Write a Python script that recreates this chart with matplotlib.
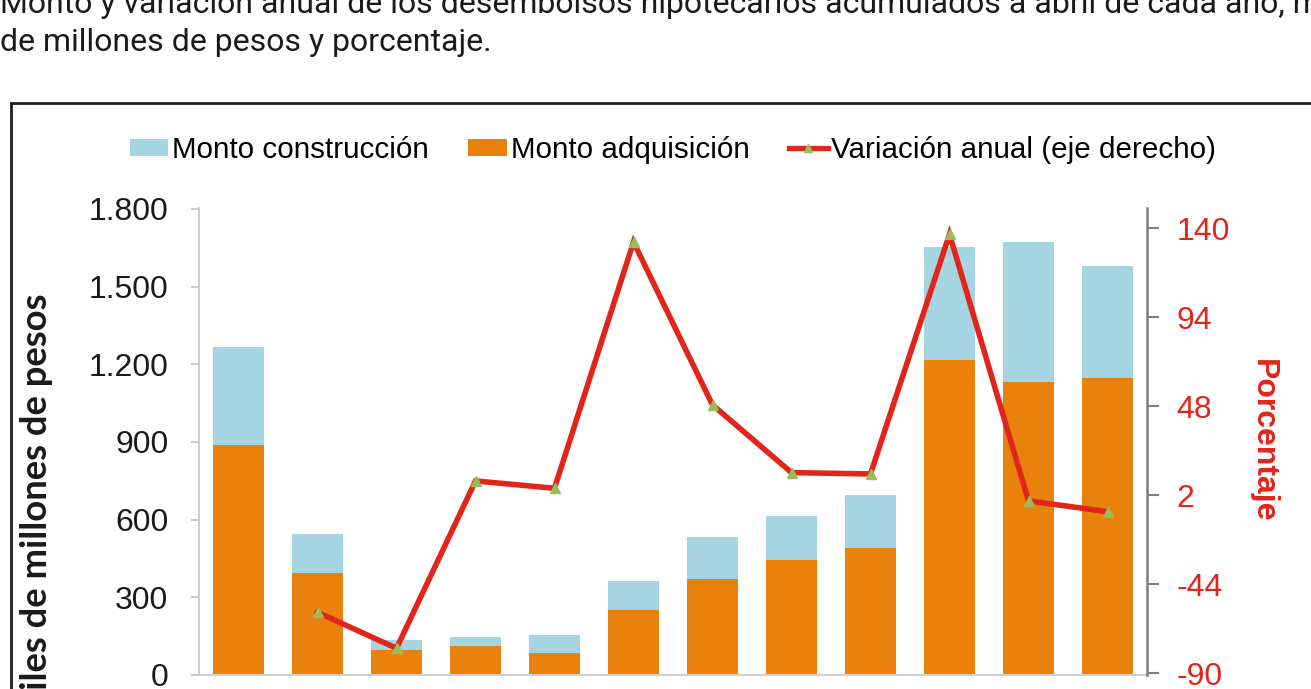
import matplotlib
matplotlib.use("Agg")
import matplotlib.pyplot as plt
from matplotlib.patches import Patch, Rectangle
from matplotlib.lines import Line2D

# ---- data ----
categories = list(range(12))
monto_total = [1268, 543, 134, 147, 153, 362, 534, 614, 695, 1654, 1672, 1579]
monto_adquisicion = [889, 393, 98, 111, 86, 250, 371, 444, 489, 1218, 1130, 1148]
monto_construccion = [t - a for t, a in zip(monto_total, monto_adquisicion)]
variacion = [None, -58.5, -77.1, 9.4, 5.6, 132.9, 48.7, 13.7, 13.0, 136.9, -0.9, -6.5]

left_ticks = [0, 300, 600, 900, 1200, 1500, 1800]
left_labels = ["0", "300", "600", "900", "1.200", "1.500", "1.800"]
right_ticks = [-90, -44, 2, 48, 94, 140]
right_labels = ["-90", "-44", "2", "48", "94", "140"]

title_line1 = "Monto y variación anual de los desembolsos hipotecarios acumulados a abril de cada año, miles"
title_line2 = "de millones de pesos y porcentaje."

BLUE = "#A5D5E2"
ORANGE = "#E8820C"
RED = "#E2251B"
GREEN = "#9BBB59"

plt.rcParams['font.family'] = ['Liberation Sans', 'DejaVu Sans']

W, H = 1311, 689
fig = plt.figure(figsize=(W / 100, H / 100), dpi=100)

def fx(px):
    return px / W

def fy(py):
    return 1 - py / H

ax = fig.add_axes([fx(199), fy(675), fx(1147) - fx(199), fy(208.3) - fy(675)])
ax.bar(categories, monto_adquisicion, width=0.65, color=ORANGE, zorder=2)
ax.bar(categories, monto_construccion, width=0.65, bottom=monto_adquisicion,
       color=BLUE, zorder=2)
ax.set_xlim(-0.5, 11.5)
ax.set_ylim(0, 1802)
ax.set_yticks(left_ticks)
ax.set_yticklabels(left_labels, fontsize=23, color="#1a1a1a")
ax.set_xticks([])
ax.tick_params(axis='y', direction='out', length=6, width=1.2, color="#bfbfbf", pad=16)
for s in ['top', 'right']:
    ax.spines[s].set_visible(False)
ax.spines['left'].set_color("#c8c8c8")
ax.spines['left'].set_linewidth(1.3)
ax.spines['bottom'].set_color("#d0d0d0")
ax.spines['bottom'].set_linewidth(1.5)

ax2 = ax.twinx()
ax2.set_ylim(-90.9, 150.3)
xs = [c for c, v in zip(categories, variacion) if v is not None]
ys = [v for v in variacion if v is not None]
ax2.plot(xs, ys, color=RED, lw=4.0, zorder=3, solid_joinstyle='miter')
ax2.plot(xs, ys, ls='none', marker='^', ms=7, color=GREEN, mec=GREEN, zorder=4)
ax2.set_yticks(right_ticks)
ax2.set_yticklabels(right_labels, fontsize=23, color=RED)
ax2.tick_params(axis='y', direction='out', length=8.4, width=1.5, color="#7f7f7f", pad=13)
for s in ['top', 'left', 'bottom']:
    ax2.spines[s].set_visible(False)
ax2.spines['right'].set_color("#7f7f7f")
ax2.spines['right'].set_linewidth(1.8)

# axis titles
fig.text(fx(1263), fy(441), "Porcentaje", rotation=270, color=RED, fontsize=23,
         fontweight='bold', ha='center', va='center')
fig.text(fx(37), fy(293), "Miles de millones de pesos", rotation=90, color="#1a1a1a",
         fontsize=26.2, fontweight='bold', family=['Lato', 'DejaVu Sans'],
         ha='center', va='top')

# legend
handles = [Patch(facecolor=BLUE, edgecolor='none'),
           Patch(facecolor=ORANGE, edgecolor='none'),
           Line2D([0], [0], color=RED, lw=3.8, marker='^', ms=6, mfc=GREEN, mec=GREEN)]
labels = ["Monto construcción", "Monto adquisición", "Variación anual (eje derecho)"]
fig.legend(handles, labels, loc='center', bbox_to_anchor=(fx(673), fy(150)), ncol=3,
           frameon=False, fontsize=21.3, handlelength=1.3, handleheight=0.55,
           handletextpad=0.12, columnspacing=1.35, borderpad=0)

# title (partially cut at top)
tfam = ['Roboto', 'DejaVu Sans']
fig.text(0, fy(13), title_line1, fontsize=23, color="#1a1a1a", ha='left', va='baseline',
         family=tfam)
fig.text(0, fy(51), title_line2, fontsize=23, color="#1a1a1a", ha='left', va='baseline',
         family=tfam)

# frame box
fig.add_artist(Rectangle((fx(11), -0.2), 1.5, fy(103) + 0.2, transform=fig.transFigure,
                         fill=False, edgecolor="#1e1e1e", lw=2.0, clip_on=False))

fig.savefig("out.png", dpi=100)
